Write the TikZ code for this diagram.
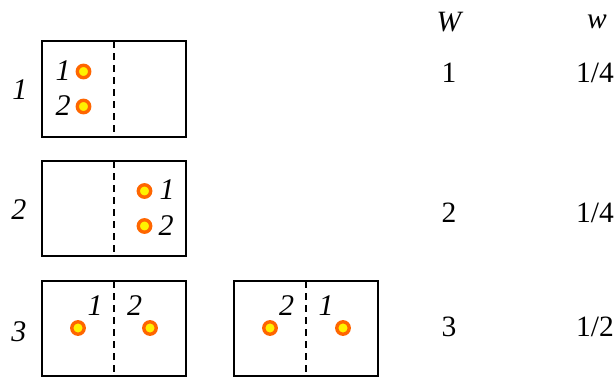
\documentclass[tikz,border=0pt]{standalone}
\usepackage{fontspec}
\setmainfont{Liberation Serif}
\begin{document}
\begin{tikzpicture}[x=1pt,y=-1pt,
  panel/.style={draw=black,line width=2pt},
  divider/.style={draw=black,line width=1.6pt,dash pattern=on 7pt off 5pt},
  ball/.style={circle,draw={rgb,255:red,255;green,102;blue,0},fill=yellow,line width=3.4pt,minimum size=12.4pt,inner sep=0pt},
  lab/.style={font=\fontsize{30}{30}\selectfont\itshape,inner sep=0pt},
  rowlab/.style={font=\fontsize{30}{30}\selectfont\itshape,inner sep=0pt},
  num/.style={font=\fontsize{29.5}{29.5}\selectfont,inner sep=0pt},
  head/.style={font=\fontsize{29.5}{29.5}\selectfont\itshape,inner sep=0pt}]
\useasboundingbox (0,0) rectangle (616,376);

% row 1: both particles in the left half
\draw[panel] (42,41) rectangle (186,136.5);
\draw[divider] (114,41) -- (114,136.5);
\node[ball] (b1a) at (83.5,71.5) {};
\node[ball] (b1b) at (83.5,106.5) {};
\node[lab] (l1a) at (63,71) {1};
\node[lab] (l1b) at (63,106) {2};
\node[rowlab] (r1) at (20,90) {1};

% row 2: both particles in the right half
\draw[panel] (42,161) rectangle (186,256);
\draw[divider] (114,161) -- (114,256);
\node[ball] (b2a) at (144.5,191) {};
\node[ball] (b2b) at (144.5,226) {};
\node[lab] (l2a) at (167,190) {1};
\node[lab] (l2b) at (166,226) {2};
\node[rowlab] (r2) at (19,210) {2};

% row 3: one particle in each half, two arrangements
\draw[panel] (42,281) rectangle (186,376);
\draw[divider] (114,281) -- (114,376);
\node[ball] (b3a) at (78,328) {};
\node[ball] (b3b) at (150,328) {};
\node[lab] (l3a) at (95,305.5) {1};
\node[lab] (l3b) at (134.5,305.5) {2};
\draw[panel] (234,281) rectangle (378,376);
\draw[divider] (306,281) -- (306,376);
\node[ball] (b4a) at (270,328) {};
\node[ball] (b4b) at (343,328) {};
\node[lab] (l4a) at (286.5,305.5) {2};
\node[lab] (l4b) at (326,305.5) {1};
\node[rowlab] (r3) at (19,332) {3};

% table of W and w
\node[head] (hW) at (449,22) {W};
\node[head] (hw) at (597,22) {w};
\node[num] (W1) at (449,73) {1};
\node[num] (w1) at (595,73) {1/4};
\node[num] (W2) at (449,213) {2};
\node[num] (w2) at (595,213) {1/4};
\node[num] (W3) at (449,327) {3};
\node[num] (w3) at (595,327) {1/2};
\end{tikzpicture}
\end{document}
